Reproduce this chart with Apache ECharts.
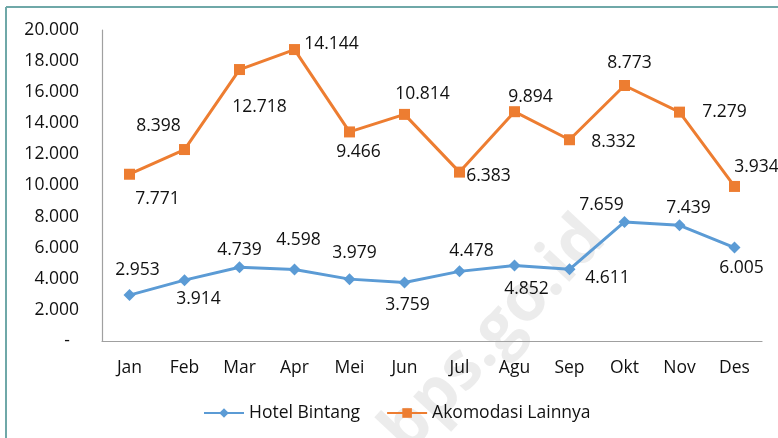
<!DOCTYPE html>
<html>
<head>
<meta charset="utf-8">
<script src="https://cdn.jsdelivr.net/npm/echarts@6/dist/echarts.min.js"></script>
<style>
html,body{margin:0;padding:0;background:#fff;}
#c{width:778px;height:438px;}
</style>
</head>
<body>
<div id="c"></div>
<script>
var categories = ['Jan','Feb','Mar','Apr','Mei','Jun','Jul','Agu','Sep','Okt','Nov','Des'];
var hotelBintang = [2953,3914,4739,4598,3979,3759,4478,4852,4611,7659,7439,6005];
var akomodasiLainnya = [7771,8398,12718,14144,9466,10814,6383,9894,8332,8773,7279,3934];
var yTicks = [0,2000,4000,6000,8000,10000,12000,14000,16000,18000,20000];

// label placement (offsets from the point, in px)
var hotelLabelOffsets = [[8,-25],[14,19],[0,-17],[4,-29],[5,-26],[3,22],[12,-20],[12,23],[38,9],[-23,-17],[9,-17],[7,20]];
var akoLabelOffsets = [[28,25],[-26,-24],[20,37],[37,-6],[9,20],[18,-20],[29,4],[16,-15],[44,2],[5,-22],[45,0],[22,-19]];

var FONT = '"Open Sans", "Noto Sans", sans-serif';
var FS = 17.5;
function fmt(v){
  if (v === 0) return '-  ';
  return String(v).replace(/\B(?=(\d{3})+(?!\d))/g, '.');
}
function withLabels(vals, offs){
  return vals.map(function(v,i){ return {value:v, label:{offset:offs[i]}}; });
}

var chart = echarts.init(document.getElementById('c'), null, {renderer:'canvas'});
chart.setOption({
  animation:false,
  backgroundColor:'#ffffff',
  textStyle:{fontFamily:FONT},
  graphic:[
    {type:'text', z:-10, x:494, y:335, rotation:0.82,
     style:{text:'bps.go.id', font:'bold 66px "Open Sans", sans-serif', fill:'rgba(205,205,205,0.38)', align:'center', verticalAlign:'middle'}},
    {type:'line', z:100, shape:{x1:6,y1:7,x2:778,y2:7}, style:{stroke:'#6fa8a8', lineWidth:2}},
    {type:'line', z:100, shape:{x1:6,y1:7,x2:6,y2:438}, style:{stroke:'#6fa8a8', lineWidth:2}}
  ],
  grid:{left:102, right:16, top:30, bottom:97, containLabel:false},
  legend:{
    left:198, top:399, itemGap:26, itemWidth:40, itemHeight:12,
    textStyle:{fontFamily:FONT, fontSize:FS, color:'#111'},
    data:['Hotel Bintang','Akomodasi Lainnya']
  },
  xAxis:{
    type:'category', data:categories, boundaryGap:true,
    axisLine:{lineStyle:{color:'#a0a0a0', width:1.2}},
    axisTick:{show:false},
    axisLabel:{margin:18, fontSize:FS, color:'#111', fontFamily:FONT}
  },
  yAxis:{
    type:'value', min:yTicks[0], max:yTicks[yTicks.length-1], interval:2000,
    axisLine:{show:true, lineStyle:{color:'#a0a0a0', width:1.2}},
    axisTick:{show:false},
    splitLine:{show:false},
    axisLabel:{margin:23, fontSize:FS, color:'#111', fontFamily:FONT, formatter:fmt}
  },
  series:[
    {
      name:'Hotel Bintang', type:'line', stack:'total',
      data:withLabels(hotelBintang, hotelLabelOffsets),
      symbol:'diamond', symbolSize:12,
      lineStyle:{color:'#5b9bd5', width:3},
      itemStyle:{color:'#5b9bd5'},
      label:{show:true, position:'inside', fontSize:FS, color:'#111', fontFamily:FONT, formatter:function(p){return fmt(p.value);}},
      z:3
    },
    {
      name:'Akomodasi Lainnya', type:'line', stack:'total',
      data:withLabels(akomodasiLainnya, akoLabelOffsets),
      symbol:'rect', symbolSize:11,
      lineStyle:{color:'#ed7d31', width:3},
      itemStyle:{color:'#ed7d31'},
      label:{show:true, position:'inside', fontSize:FS, color:'#111', fontFamily:FONT, formatter:function(p){return fmt(p.value);}},
      z:3
    }
  ]
});
</script>
</body>
</html>
